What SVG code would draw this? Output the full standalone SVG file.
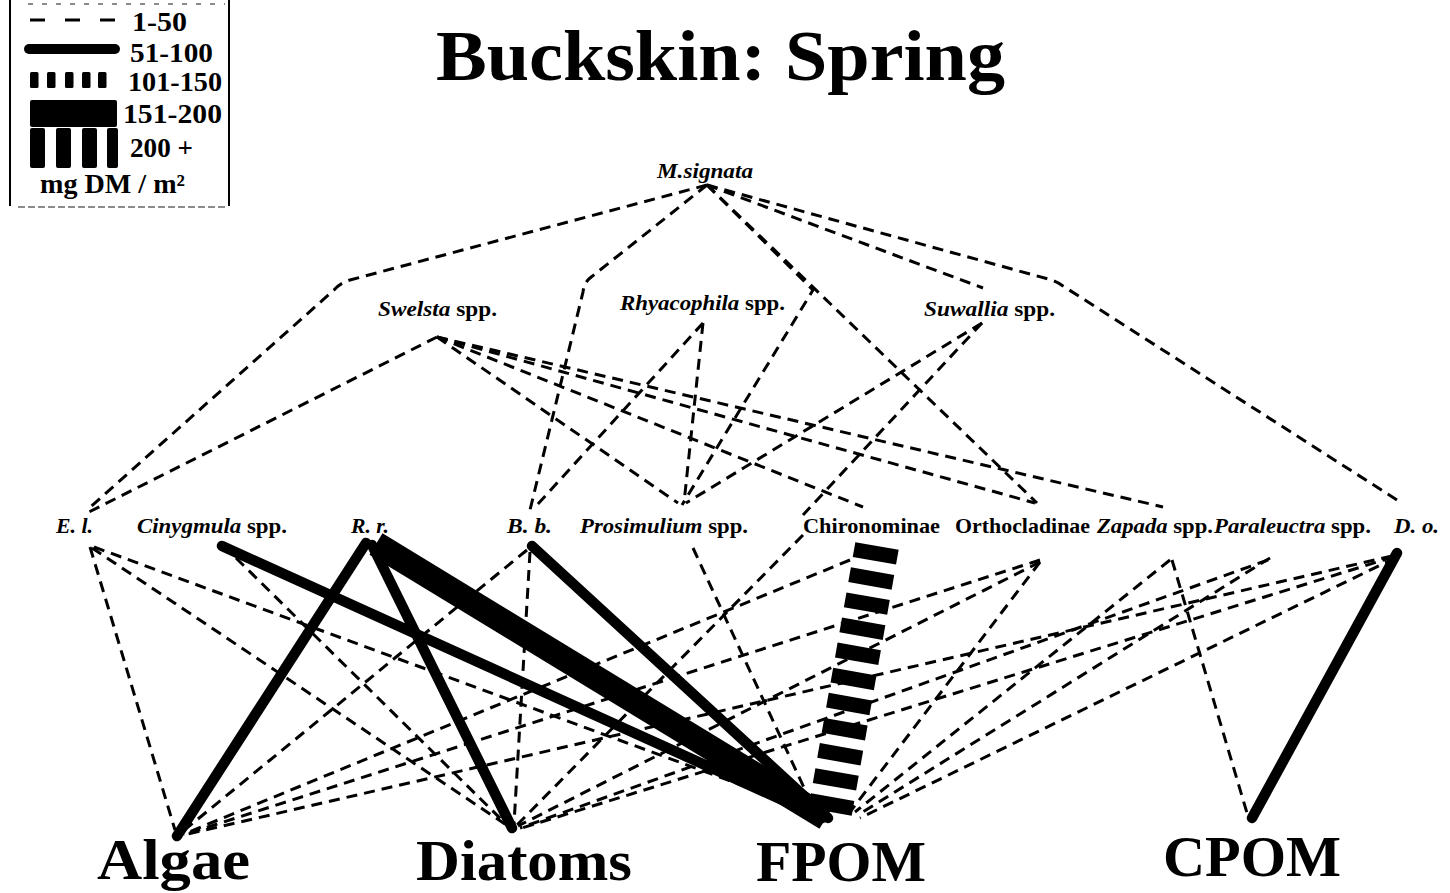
<svg xmlns="http://www.w3.org/2000/svg" width="1450" height="893" viewBox="0 0 1450 893">
<defs>
<style>
.t{font-family:"Liberation Serif","Times New Roman",serif;font-weight:bold;fill:#000}
.lg{font-size:27px}
.sp{font-size:21px}
.i{font-style:italic}
.base{font-size:56px}
.d{fill:none;stroke:#000;stroke-width:3;stroke-dasharray:11 7}
.s{fill:none;stroke:#000;stroke-width:10.5;stroke-linecap:round}
.xl{fill:none;stroke:#000;stroke-width:25}
.blk{fill:none;stroke:#000;stroke-width:44;stroke-dasharray:15 10.5}
</style>
</defs>
<rect width="1450" height="893" fill="#fff"/>

<!-- legend of link weights -->
<g id="legend">
  <line x1="10" y1="0" x2="10" y2="206" stroke="#000" stroke-width="2"/>
  <line x1="229" y1="0" x2="229" y2="206" stroke="#000" stroke-width="2"/>
  <line x1="28" y1="4" x2="225" y2="4" stroke="#666" stroke-width="1.5" stroke-dasharray="5 9"/>
  <line x1="18" y1="207" x2="225" y2="207" stroke="#666" stroke-width="1.5" stroke-dasharray="7 3"/>
  <line x1="30" y1="20" x2="115" y2="20" stroke="#000" stroke-width="3" stroke-dasharray="15 20"/>
  <line x1="29" y1="49" x2="115" y2="49" stroke="#000" stroke-width="10" stroke-linecap="round"/>
  <g fill="#000">
    <rect x="30" y="72" width="8.5" height="16" rx="1.5"/>
    <rect x="47" y="72" width="8.5" height="16" rx="1.5"/>
    <rect x="65" y="72" width="8.5" height="16" rx="1.5"/>
    <rect x="82" y="72" width="8.5" height="16" rx="1.5"/>
    <rect x="98" y="72" width="8.5" height="16" rx="1.5"/>
    <rect x="30" y="100" width="87" height="27" rx="2"/>
    <rect x="30" y="128" width="15" height="40" rx="2"/>
    <rect x="56" y="128" width="15" height="40" rx="2"/>
    <rect x="82" y="128" width="15" height="40" rx="2"/>
    <rect x="107" y="128" width="11" height="40" rx="2"/>
  </g>
  <text class="t lg" x="132" y="31" textLength="55" lengthAdjust="spacingAndGlyphs">1-50</text>
  <text class="t lg" x="130" y="62" textLength="83" lengthAdjust="spacingAndGlyphs">51-100</text>
  <text class="t lg" x="128" y="91" textLength="94" lengthAdjust="spacingAndGlyphs">101-150</text>
  <text class="t lg" x="123" y="123" textLength="99" lengthAdjust="spacingAndGlyphs">151-200</text>
  <text class="t lg" x="130" y="157" textLength="63" lengthAdjust="spacingAndGlyphs">200 +</text>
  <text class="t lg" x="40" y="193" textLength="145" lengthAdjust="spacingAndGlyphs">mg DM / m²</text>
</g>

<text id="title" class="t" x="436" y="80" font-size="71" textLength="569" lengthAdjust="spacingAndGlyphs">Buckskin: Spring</text>

<!-- feeding links -->
<g id="connectors">
  <!-- predators to prey -->
  <path class="d" d="M707,185 L350,280 Q340,283 334,290 L87,510"/>
  <path class="d" d="M707,185 L590,278 Q584,283 583,292 L530,510"/>
  <polyline class="d" points="707,185 813,290 682,505"/>
  <line class="d" x1="707" y1="185" x2="1037" y2="503"/>
  <line class="d" x1="707" y1="185" x2="983" y2="288"/>
  <path class="d" d="M707,185 L1048,279 Q1056,281 1063,286 L1397,500"/>
  <line class="d" x1="437" y1="337" x2="89" y2="512"/>
  <line class="d" x1="437" y1="337" x2="678" y2="503"/>
  <line class="d" x1="437" y1="337" x2="863" y2="507"/>
  <line class="d" x1="437" y1="337" x2="1035" y2="503"/>
  <line class="d" x1="437" y1="337" x2="1163" y2="507"/>
  <line class="d" x1="703" y1="323" x2="537" y2="505"/>
  <line class="d" x1="703" y1="323" x2="684" y2="503"/>
  <line class="d" x1="982" y1="323" x2="686" y2="503"/>
  <line class="d" x1="982" y1="323" x2="803" y2="515"/>

  <!-- consumers to basal resources, 1-50 -->
  <line class="d" x1="90" y1="547" x2="175" y2="830"/>
  <line class="d" x1="92" y1="548" x2="508" y2="826"/>
  <line class="d" x1="94" y1="547" x2="815" y2="812"/>
  <line class="d" x1="236" y1="558" x2="508" y2="826"/>
  <line class="d" x1="527" y1="550" x2="182" y2="832"/>
  <line class="d" x1="530" y1="552" x2="514" y2="824"/>
  <line class="d" x1="693" y1="548" x2="812" y2="805"/>
  <line class="d" x1="850" y1="560" x2="184" y2="834"/>
  <line class="d" x1="803" y1="535" x2="516" y2="826"/>
  <line class="d" x1="1040" y1="560" x2="186" y2="834"/>
  <line class="d" x1="1040" y1="562" x2="518" y2="826"/>
  <line class="d" x1="1040" y1="562" x2="850" y2="812"/>
  <line class="d" x1="1170" y1="560" x2="855" y2="812"/>
  <line class="d" x1="1172" y1="560" x2="1247" y2="813"/>
  <line class="d" x1="1270" y1="558" x2="858" y2="815"/>
  <line class="d" x1="1268" y1="560" x2="520" y2="828"/>
  <line class="d" x1="1395" y1="558" x2="860" y2="818"/>
  <line class="d" x1="1392" y1="556" x2="188" y2="834"/>
  <line class="d" x1="1393" y1="557" x2="522" y2="828"/>

  <!-- heavier links -->
  <line class="s" x1="222" y1="546" x2="822" y2="818"/>
  <line class="s" x1="366" y1="543" x2="177" y2="836"/>
  <line class="s" x1="372" y1="545" x2="512" y2="828"/>
  <line class="xl" x1="376" y1="544" x2="826" y2="818"/>
  <line class="s" x1="532" y1="546" x2="828" y2="818"/>
  <line class="s" x1="1397" y1="553" x2="1252" y2="818"/>
  <line class="blk" x1="877" y1="546" x2="830" y2="812"/>
</g>

<!-- taxa -->
<g id="n-msignata"><text class="t sp i" x="657" y="178" textLength="96" lengthAdjust="spacingAndGlyphs">M.signata</text></g>
<g id="n-swelsta"><text class="t sp" x="378" y="316" textLength="119" lengthAdjust="spacingAndGlyphs"><tspan class="i">Swelsta</tspan> spp.</text></g>
<g id="n-rhyacophila"><text class="t sp" x="620" y="310" textLength="165" lengthAdjust="spacingAndGlyphs"><tspan class="i">Rhyacophila</tspan> spp.</text></g>
<g id="n-suwallia"><text class="t sp" x="924" y="316" textLength="131" lengthAdjust="spacingAndGlyphs"><tspan class="i">Suwallia</tspan> spp.</text></g>

<g id="n-el"><text class="t sp i" x="56" y="533" textLength="37" lengthAdjust="spacingAndGlyphs">E. l.</text></g>
<g id="n-cinygmula"><text class="t sp" x="137" y="533" textLength="150" lengthAdjust="spacingAndGlyphs"><tspan class="i">Cinygmula</tspan> spp.</text></g>
<g id="n-rr"><text class="t sp i" x="351" y="533" textLength="38" lengthAdjust="spacingAndGlyphs">R. r.</text></g>
<g id="n-bb"><text class="t sp i" x="507" y="533" textLength="45" lengthAdjust="spacingAndGlyphs">B. b.</text></g>
<g id="n-prosimulium"><text class="t sp" x="580" y="533" textLength="168" lengthAdjust="spacingAndGlyphs"><tspan class="i">Prosimulium</tspan> spp.</text></g>
<g id="n-chironominae"><text class="t sp" x="803" y="533" textLength="137" lengthAdjust="spacingAndGlyphs">Chironominae</text></g>
<g id="n-orthocladinae"><text class="t sp" x="955" y="533" textLength="135" lengthAdjust="spacingAndGlyphs">Orthocladinae</text></g>
<g id="n-zapada"><text class="t sp" x="1097" y="533" textLength="116" lengthAdjust="spacingAndGlyphs"><tspan class="i">Zapada</tspan> spp.</text></g>
<g id="n-paraleuctra"><text class="t sp" x="1214" y="533" textLength="157" lengthAdjust="spacingAndGlyphs"><tspan class="i">Paraleuctra</tspan> spp.</text></g>
<g id="n-do"><text class="t sp i" x="1394" y="533" textLength="45" lengthAdjust="spacingAndGlyphs">D. o.</text></g>

<!-- basal resources -->
<g id="n-algae"><text class="t base" x="97" y="879" textLength="153" lengthAdjust="spacingAndGlyphs">Algae</text></g>
<g id="n-diatoms"><text class="t base" x="416" y="880" textLength="216" lengthAdjust="spacingAndGlyphs">Diatoms</text></g>
<g id="n-fpom"><text class="t base" x="756" y="881" textLength="170" lengthAdjust="spacingAndGlyphs">FPOM</text></g>
<g id="n-cpom"><text class="t base" x="1163" y="876" textLength="178" lengthAdjust="spacingAndGlyphs">CPOM</text></g>
</svg>
